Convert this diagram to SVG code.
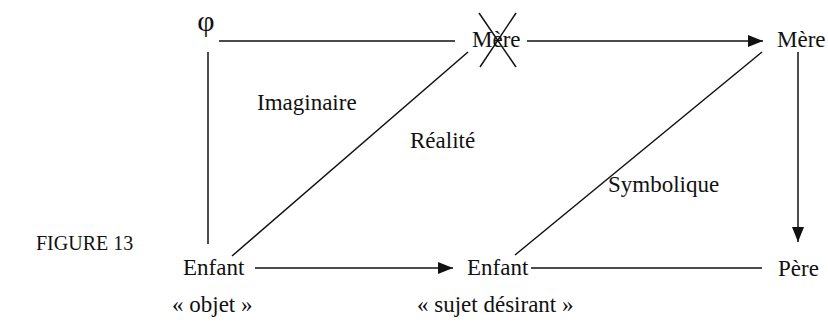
<svg xmlns="http://www.w3.org/2000/svg" width="828" height="322" viewBox="0 0 828 322">
<style>
text{font-family:"Liberation Serif","Times New Roman",serif;font-size:23px;fill:#111}
.ln{stroke:#111;stroke-width:1.5;fill:none}
</style>
<defs>
<marker id="ah" markerWidth="16" markerHeight="12" refX="15" refY="6" orient="auto" markerUnits="userSpaceOnUse">
<path d="M0,0 L15,6 L0,12 Z" fill="#111"/>
</marker>
</defs>
<rect width="828" height="322" fill="#fff"/>
<g id="connectors">
<line class="ln" x1="219" y1="41" x2="455" y2="41"/>
<line class="ln" x1="527" y1="41" x2="763" y2="41" marker-end="url(#ah)"/>
<line class="ln" x1="208" y1="52" x2="208" y2="244"/>
<line class="ln" x1="798" y1="52" x2="798" y2="242" marker-end="url(#ah)"/>
<line class="ln" x1="255" y1="268" x2="453" y2="268" marker-end="url(#ah)"/>
<line class="ln" x1="531" y1="268" x2="762" y2="268"/>
<line class="ln" x1="232" y1="256" x2="468" y2="52"/>
<line class="ln" x1="515" y1="255" x2="762" y2="52"/>
</g>
<g id="phi"><text x="206" y="31" text-anchor="middle" style="font-size:30px">φ</text></g>
<g id="mere-barree">
<text x="472" y="47">Mère</text>
<line class="ln" x1="479" y1="13" x2="516" y2="67"/>
<line class="ln" x1="516" y1="13" x2="480" y2="67"/>
</g>
<g id="mere"><text x="777" y="47">Mère</text></g>
<g id="enfant-objet"><text x="183" y="275">Enfant</text></g>
<g id="enfant-sujet"><text x="467" y="275">Enfant</text></g>
<g id="pere"><text x="778" y="276">Père</text></g>
<g id="labels">
<text x="257" y="110">Imaginaire</text>
<text x="410" y="148">Réalité</text>
<text x="608" y="192">Symbolique</text>
<text x="36" y="250" style="font-size:20px">FIGURE 13</text>
<text x="172" y="312">« objet »</text>
<text x="417" y="312">« sujet désirant »</text>
</g>
</svg>
